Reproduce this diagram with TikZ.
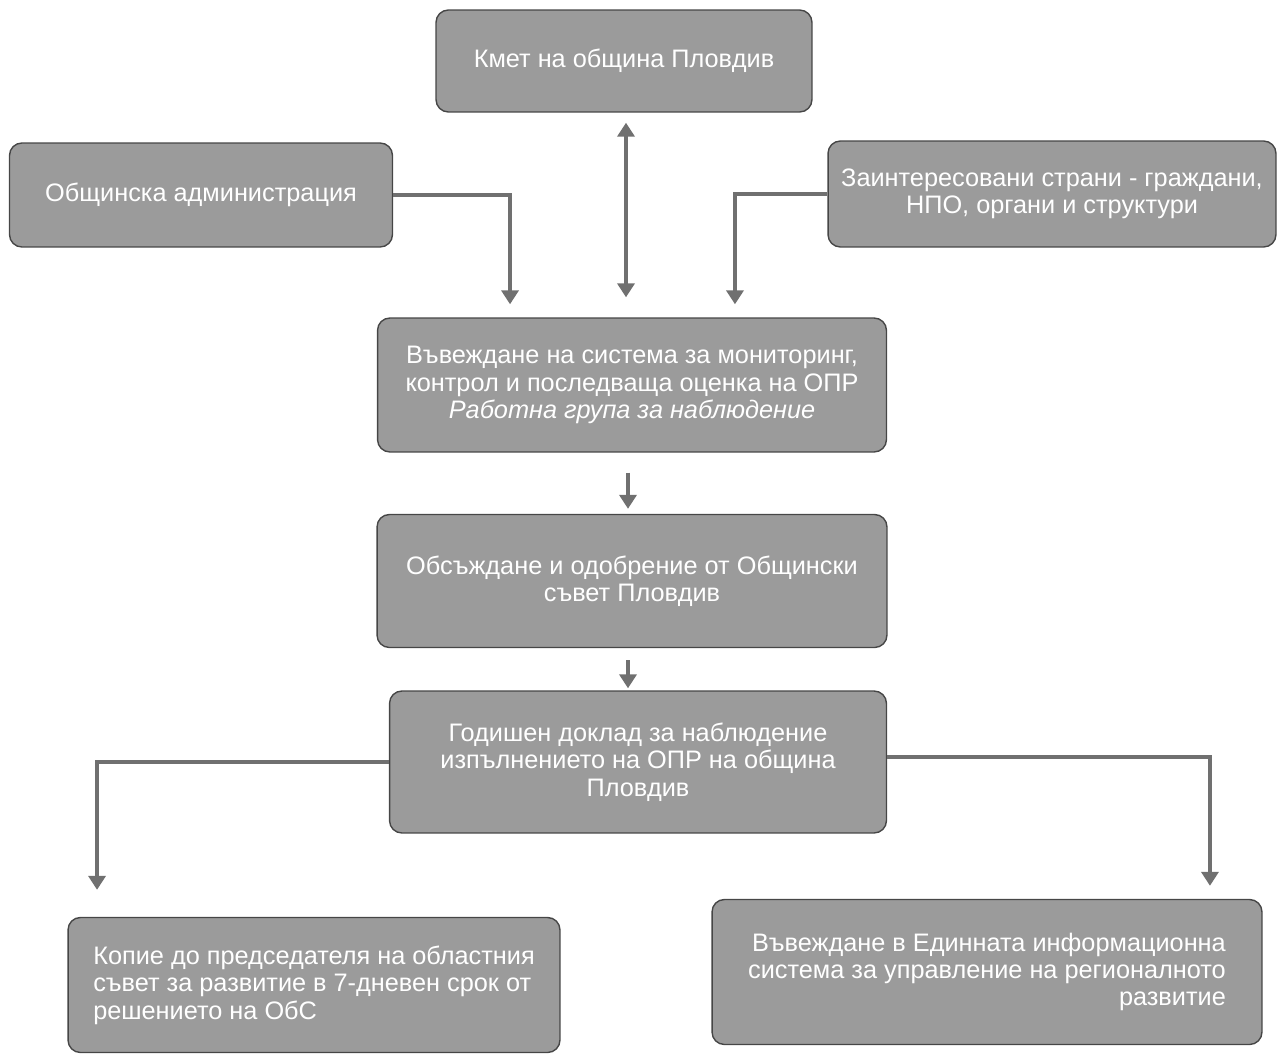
\documentclass[tikz,border=0pt]{standalone}
\usepackage{fontspec}
\setmainfont{Liberation Sans}
\usetikzlibrary{arrows.meta,positioning,calc}
\definecolor{slate}{RGB}{155,155,155}
\definecolor{rim}{RGB}{70,70,70}
\definecolor{wire}{RGB}{112,112,112}
\tikzset{
  >={Triangle[length=2.8mm,width=3.4mm]},
  box/.style={draw=rim,fill=slate,rounded corners=7pt,line width=0.8pt,
    text=white,font=\fontsize{14.4}{15.6}\selectfont,align=center,inner sep=4pt},
  flow/.style={->,draw=wire,line width=2pt},
}

\begin{document}
\begin{tikzpicture}[x=0.02cm,y=-0.02cm]
  \useasboundingbox (0,0) rectangle (1279,1058);
  % boxes
  \node[box,minimum width=7.52cm,minimum height=2.04cm] (mayor) at (624,61) {Кмет на община Пловдив};
  \node[box,minimum width=7.66cm,minimum height=2.08cm] (admin) at (201,195) {Общинска администрация};
  \node[box,minimum width=8.96cm,minimum height=2.12cm] (stake) at (1052,194)
    {Заинтересовани страни - граждани,\\ НПО, органи и структури};
  \node[box,minimum width=10.18cm,minimum height=2.68cm] (monitor) at (632,385)
    {Въвеждане на система за мониторинг,\\ контрол и последваща оценка на ОПР\\ \textit{Работна група за наблюдение}};
  \node[box,minimum width=10.2cm,minimum height=2.66cm] (council) at (632,581)
    {Обсъждане и одобрение от Общински\\ съвет Пловдив};
  \node[box,minimum width=9.94cm,minimum height=2.84cm] (report) at (638,762)
    {Годишен доклад за наблюдение\\ изпълнението на ОПР на община\\ Пловдив};
  \node[box,align=left,minimum width=9.84cm,minimum height=2.7cm] (copy) at (314,985)
    {Копие до председателя на областния\\ съвет за развитие в 7-дневен срок от\\ решението на ОбС};
  \node[box,align=right,minimum width=11cm,minimum height=2.9cm] (entry) at (987,972)
    {Въвеждане в Единната информационна\\ система за управление на регионалното\\ развитие};
  % connectors
  \draw[flow,<->,shorten <=0.2cm,shorten >=0.4cm] ([xshift=0.04cm]mayor.south) -- ([xshift=0.04cm]mayor.south |- monitor.north);
  \draw[flow,shorten >=0.26cm] (admin.east) -| ([xshift=-2.44cm]monitor.north);
  \draw[flow,shorten >=0.26cm] (stake.west) -| ([xshift=2.06cm]monitor.north);
  \draw[flow,shorten <=0.4cm,shorten >=0.1cm] ([xshift=-0.08cm]monitor.south) -- ([xshift=-0.08cm]monitor.south |- council.north);
  \draw[flow,shorten <=0.24cm,shorten >=0.04cm] ([xshift=-0.08cm]council.south) -- ([xshift=-0.08cm]council.south |- report.north);
  \draw[flow,shorten >=0.54cm] (report.west) -| ([xshift=-4.34cm]copy.north);
  \draw[flow,shorten >=0.26cm] ([yshift=0.1cm]report.east) -| ([xshift=4.46cm]entry.north);
\end{tikzpicture}
\end{document}
